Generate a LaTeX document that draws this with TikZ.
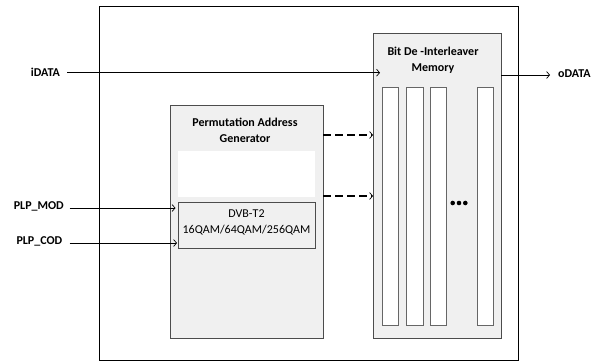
\documentclass[tikz,border=0pt]{standalone}
\usepackage{fontspec}
\setmainfont{Carlito}
\usetikzlibrary{arrows.meta}
\newcommand{\memcolumn}{\draw[draw = black!60, fill = white, line width = 0.7pt] (0,0) -- (0,238) -- (16.5,238) -- (16.5,0) -- cycle;}
\newcommand{\memdot}{\fill[black] (0,0) circle (2.3);}
\tikzset{
	blockbox/.style = {draw = black!70, fill = black!6, line width = 0.8pt, inner sep = 0pt, outer sep = 0pt},
	sigtext/.style = {font = \fontsize{12}{14}\selectfont\bfseries, inner sep = 0pt},
	titletext/.style = {font = \fontsize{12}{16.5}\selectfont\bfseries, align = center, inner sep = 0pt},
	modetext/.style = {font = \fontsize{12}{16}\selectfont, align = center, inner sep = 0pt},
	sigline/.style = {line width = 0.7pt, -{Straight Barb[length = 3pt, width = 7pt, line width = 0.7pt]}},
	addrline/.style = {line width = 2.5pt, dash pattern = on 8pt off 4pt, -{Straight Barb[length = 3pt, width = 7pt, line width = 0.7pt]}}
}

\begin{document}
\begin{tikzpicture}[x = 1pt, y = -1pt]

					\useasboundingbox (0,0) rectangle (602,362);

					% outer frame
					\draw[line width = 0.8pt] (99.6,6) rectangle (518,360);

					% bit de-interleaver memory
					\node[blockbox, minimum width = 128pt, minimum height = 305pt] (mem) at (437,185.5) {};
					\node[titletext] (memtitle) at (433,60) {Bit De -Interleaver\\Memory};

					\begin{scope}[shift = {(382,87)}]
						\memcolumn
					\end{scope}

					\begin{scope}[shift = {(406.5,87)}]
						\memcolumn
					\end{scope}

					\begin{scope}[shift = {(430,87)}]
						\memcolumn
					\end{scope}

					\begin{scope}[shift = {(477,87)}]
						\memcolumn
					\end{scope}

					\begin{scope}[shift = {(452.7,203)}]
						\memdot
					\end{scope}

					\begin{scope}[shift = {(459,203)}]
						\memdot
					\end{scope}

					\begin{scope}[shift = {(465.3,203)}]
						\memdot
					\end{scope}

					% permutation address generator
					\node[blockbox, minimum width = 153pt, minimum height = 233pt] (pag) at (246.5,221.5) {};
					\node[titletext] (pagtitle) at (245,130.5) {Permutation Address\\Generator};
					\fill[white] (177.6,151) rectangle (314.7,197);
					\node[blockbox, minimum width = 137pt, minimum height = 46pt] (dvb) at (246.5,225) {};
					\node[modetext] (dvbtext) at (246.5,222) {DVB-T2\\16QAM/64QAM/256QAM};

					% signals
					\node[sigtext, anchor = east] (idata) at (60,72) {iDATA};
					\node[sigtext, anchor = west] (odata) at (558,73.5) {oDATA};
					\node[sigtext, anchor = east] (plpmod) at (64,206) {PLP\_MOD};
					\node[sigtext, anchor = east] (plpcod) at (62.5,241) {PLP\_COD};

					\draw[sigline] ([xshift = 7pt, yshift = -0.7pt]idata.east) -- ([xshift = 7pt, yshift = -0.7pt]idata.east -| mem.west);
					\draw[sigline] ([yshift = -1.5pt]odata.west -| mem.east) -- ([xshift = -8pt, yshift = -1.5pt]odata.west);
					\draw[sigline] ([xshift = 5.5pt, yshift = -2pt]plpmod.east) -- ([xshift = 5.5pt, yshift = -2pt]plpmod.east -| pag.west);
					\draw[sigline] ([xshift = 7pt, yshift = -2pt]plpcod.east) -- ([xshift = 7pt, yshift = -2pt]plpcod.east -| pag.west);

					\draw[addrline] ([yshift = -30pt]pag.north east) -- ([yshift = -30pt]pag.north east -| mem.west);
					\draw[addrline] ([yshift = -91pt]pag.north east) -- ([yshift = -91pt]pag.north east -| mem.west);

\end{tikzpicture}
\end{document}
